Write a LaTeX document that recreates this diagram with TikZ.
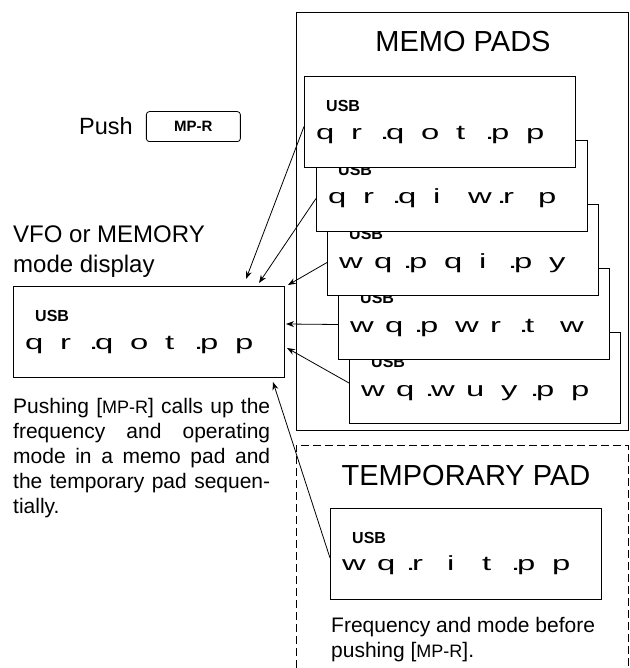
\documentclass[tikz,border=0pt]{standalone}
\usepackage{fontspec}
\setmainfont{Liberation Sans}
\newfontfamily\lcdfont[FakeStretch=1.6]{Liberation Sans}
\usetikzlibrary{arrows.meta,positioning}

\newcommand\dt{\llap{.\hspace{-3pt}}}
\newcommand\freq[1]{\foreach \ch in {#1}{\makebox[35pt][l]{\ch}}}
\newcommand\key[1]{[{\fontsize{18}{25}\selectfont #1}]}

\begin{document}
\begin{tikzpicture}[
  x=1pt, y=-1pt,
  pad/.style={draw, line width=1pt, fill=white, anchor=north west, inner sep=0pt, minimum width=271pt, minimum height=91pt},
  usb/.style={anchor=west, inner sep=0pt, font=\bfseries\fontsize{16}{16}\selectfont},
  digits/.style={anchor=base west, inner sep=0pt, font=\lcdfont\fontsize{20.5}{22}\selectfont},
  title/.style={anchor=base, inner sep=0pt, font=\fontsize{29}{32}\selectfont},
  body/.style={anchor=base west, inner sep=0pt, align=left, font=\fontsize{21}{25}\selectfont},
  keybox/.style={draw, line width=0.8pt, rounded corners=3pt, minimum width=94pt, minimum height=30pt, font=\bfseries\fontsize{15}{16}\selectfont},
  arrow/.style={-{Stealth[length=8pt,width=6pt]}, line width=0.8pt}
]
\useasboundingbox (0,0) rectangle (629,668);

\draw[line width=0.8pt] (296,12) rectangle (628,430);
\draw[line width=0.8pt, dash pattern=on 8pt off 4pt] (296,668) -- (296,445) -- (628,445) -- (628,668);

\node[title] (memotitle) at (463,52) {MEMO PADS};
\node[title] (temptitle) at (466,485) {TEMPORARY PAD};

\node[pad] (pad5) at (349,332) {};
\node[usb] at ([shift={(22,30)}]pad5.north west) {USB};
\node[digits] at ([shift={(12,64)}]pad5.north west) {\freq{w,q,\dt w,u,y,\dt p,p}};
\node[pad] (pad4) at (338,268) {};
\node[usb] at ([shift={(22,30)}]pad4.north west) {USB};
\node[digits] at ([shift={(12,64)}]pad4.north west) {\freq{w,q,\dt p,w,r,\dt t,w}};
\node[pad] (pad3) at (327,204) {};
\node[usb] at ([shift={(22,30)}]pad3.north west) {USB};
\node[digits] at ([shift={(12,64)}]pad3.north west) {\freq{w,q,\dt p,q,i,\dt p,y}};
\node[pad] (pad2) at (316,140) {};
\node[usb] at ([shift={(22,30)}]pad2.north west) {USB};
\node[digits] at ([shift={(12,64)}]pad2.north west) {\freq{q,r,\dt q,i,w,\dt r,p}};
\node[pad] (pad1) at (304,76) {};
\node[usb] at ([shift={(22,30)}]pad1.north west) {USB};
\node[digits] at ([shift={(12,64)}]pad1.north west) {\freq{q,r,\dt q,o,t,\dt p,p}};

\node[pad] (vfo) at (13,286) {};
\node[usb] at ([shift={(22,30)}]vfo.north west) {USB};
\node[digits] at ([shift={(12,63)}]vfo.north west) {\freq{q,r,\dt q,o,t,\dt p,p}};

\node[pad] (temp) at (330,508) {};
\node[usb] at ([shift={(22,30)}]temp.north west) {USB};
\node[digits] at ([shift={(12,62)}]temp.north west) {\freq{w,q,\dt r,i,t,\dt p,p}};

\node[body, font=\fontsize{23.5}{26}\selectfont] (push) at (79,135) {Push};
\node[keybox, right=13pt of push] (mpr) {MP-R};

\node[body, font=\fontsize{24}{30}\selectfont] (vfolabel) at (13,272) {VFO or MEMORY\\mode display};
\node[body, text width=257pt, align=justify] (desc) at (13,413)
  {Pushing \key{MP-R} calls up the\linebreak frequency and operating\linebreak mode in a memo pad and\linebreak the temporary pad sequen-\linebreak tially.};
\node[body] (before) at (331,657) {Frequency and mode before\\pushing \key{MP-R}.};

\draw[arrow] ([shift={(0,4.5)}]pad1.west) -- ([shift={(-39,-7)}]vfo.north east);
\draw[arrow] ([shift={(0,12.5)}]pad2.west) -- ([shift={(-26,-3)}]vfo.north east);
\draw[arrow] ([shift={(0,12.5)}]pad3.west) -- ([shift={(3,-1)}]vfo.north east);
\draw[arrow] ([shift={(0,10.5)}]pad4.west) -- ([shift={(1,-8)}]vfo.east);
\draw[arrow] ([shift={(0,5)}]pad5.west) -- ([shift={(2,16)}]vfo.east);
\draw[arrow] ([shift={(0,4)}]temp.west) -- ([shift={(-12,4)}]vfo.south east);

\end{tikzpicture}
\end{document}
